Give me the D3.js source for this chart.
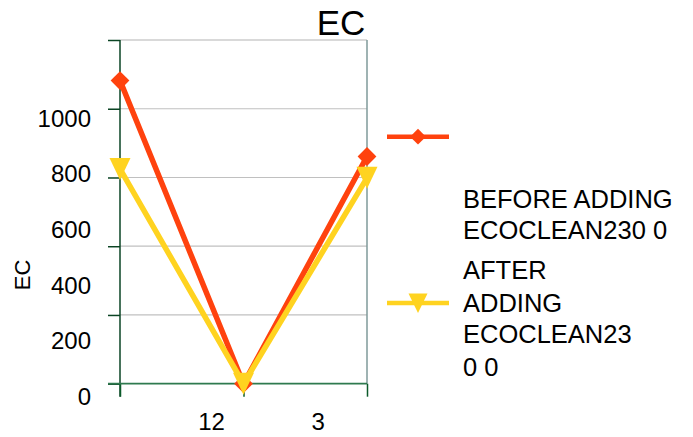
<!DOCTYPE html>
<html>
<head>
<meta charset="utf-8">
<script src="https://cdn.jsdelivr.net/npm/d3@7"></script>
<style>
  html, body { margin: 0; padding: 0; background: #fff; }
  svg { display: block; font-family: "Liberation Sans", Arial, sans-serif; }
</style>
</head>
<body>
<svg id="chart" width="693" height="437"></svg>
<script>
// Categories and series values (EC)
const categories = ["1", "2", "3"];
const before = [882, 0, 661];
const after = [625, 0, 599];
const seriesNames = [["BEFORE ADDING", "ECOCLEAN230 0"], ["AFTER", "ADDING", "ECOCLEAN23", "0 0"]];
const yTicks = [0, 200, 400, 600, 800, 1000];
const xTickLabels = ["12", "3"];

const colors = ["#ff420e", "#ffd320"];

const svg = d3.select("#chart");

const plot = { left: 120, right: 367, top: 40, bottom: 383.7 };

const x = d3.scalePoint().domain(categories).range([plot.left, plot.right]);
const y = d3.scaleLinear().domain([0, 1000]).range([plot.bottom, plot.top]);
// tick-label placement along the value axis
const yLabel = d3.scaleLinear().domain([0, 1000]).range([405, 126.7]);
const xLabel = d3.scalePoint().domain(xTickLabels).range([211.5, 318.3]);

// gridlines
svg.append("g").selectAll("line")
  .data(yTicks.filter(d => d > 0 && d < 1000))
  .join("line")
  .attr("x1", plot.left).attr("x2", plot.right)
  .attr("y1", d => y(d)).attr("y2", d => y(d))
  .attr("stroke", "#c0c0c0").attr("stroke-width", 1.2);

// plot frame (top / right)
svg.append("line").attr("x1", plot.left).attr("x2", plot.right)
  .attr("y1", plot.top).attr("y2", plot.top)
  .attr("stroke", "#b3b3b3").attr("stroke-width", 1.2);
svg.append("line").attr("x1", plot.right).attr("x2", plot.right)
  .attr("y1", plot.top).attr("y2", plot.bottom)
  .attr("stroke", "#7f9a9a").attr("stroke-width", 1.5);

// value axis
const yAxis = svg.append("g")
  .attr("transform", `translate(${plot.left},0)`)
  .call(d3.axisLeft(y).tickValues(yTicks).tickFormat("").tickSize(12).tickSizeOuter(0));
yAxis.select(".domain").remove();
yAxis.selectAll(".tick line").attr("stroke", "#0b4424").attr("stroke-width", 1.5);
svg.append("line").attr("x1", plot.left).attr("x2", plot.left)
  .attr("y1", plot.top).attr("y2", plot.bottom + 13)
  .attr("stroke", "#0b4424").attr("stroke-width", 1.5);

svg.append("g").selectAll("text")
  .data(yTicks)
  .join("text")
  .attr("x", 91).attr("y", d => yLabel(d))
  .attr("text-anchor", "end")
  .attr("font-size", 24).attr("fill", "#000")
  .text(d => d);

// category axis
const xAxis = svg.append("g")
  .attr("transform", `translate(0,${plot.bottom})`)
  .call(d3.axisBottom(x).tickFormat("").tickSize(13).tickSizeOuter(0));
xAxis.select(".domain").remove();
xAxis.selectAll(".tick line").attr("stroke", "#0b5a2a").attr("stroke-width", 1.5);
svg.append("line").attr("x1", plot.left - 12).attr("x2", plot.right)
  .attr("y1", plot.bottom).attr("y2", plot.bottom)
  .attr("stroke", "#2f7a4f").attr("stroke-width", 1.8);

svg.append("g").selectAll("text")
  .data(xTickLabels)
  .join("text")
  .attr("x", d => xLabel(d)).attr("y", 430)
  .attr("text-anchor", "middle")
  .attr("font-size", 24).attr("fill", "#000")
  .text(d => d);

// titles
svg.append("text").attr("x", 341).attr("y", 35)
  .attr("text-anchor", "middle").attr("font-size", 35).text("EC");
svg.append("text")
  .attr("transform", "translate(30,275) rotate(-90)")
  .attr("text-anchor", "middle").attr("font-size", 22).text("EC");

// series
const series = [before, after];
const line = d3.line().x((d, i) => x(categories[i])).y(d => y(d));
const diamond = d3.symbol().type(d3.symbolDiamond2).size(225);
const triangle = "M-10.5,-11 L10.5,-11 L0,11 Z";

series.forEach((vals, s) => {
  svg.append("path").datum(vals)
    .attr("d", line)
    .attr("fill", "none")
    .attr("stroke", colors[s]).attr("stroke-width", 5.5)
    .attr("stroke-linejoin", "miter");
});
series.forEach((vals, s) => {
  svg.append("g").selectAll("path")
    .data(vals)
    .join("path")
    .attr("transform", (d, i) => `translate(${x(categories[i])},${y(d)})`)
    .attr("d", s === 0 ? diamond() : triangle)
    .attr("fill", colors[s]);
});

// legend
const legendY = [136.7, 303];
const legendText = [[208.3, 239.3], [279.3, 311.7, 343.3, 376]];
seriesNames.forEach((lines, s) => {
  const g = svg.append("g");
  g.append("line").attr("x1", 387).attr("x2", 449)
    .attr("y1", legendY[s]).attr("y2", legendY[s])
    .attr("stroke", colors[s]).attr("stroke-width", 4.5);
  g.append("path")
    .attr("transform", `translate(418,${legendY[s]})`)
    .attr("d", s === 0 ? d3.symbol().type(d3.symbolDiamond2).size(160)() : "M-9.5,-9.5 L9.5,-9.5 L0,10 Z")
    .attr("fill", colors[s]);
  g.selectAll("text")
    .data(lines)
    .join("text")
    .attr("x", 463).attr("y", (d, i) => legendText[s][i])
    .attr("font-size", 25.5).attr("fill", "#000")
    .text(d => d);
});
</script>
</body>
</html>
